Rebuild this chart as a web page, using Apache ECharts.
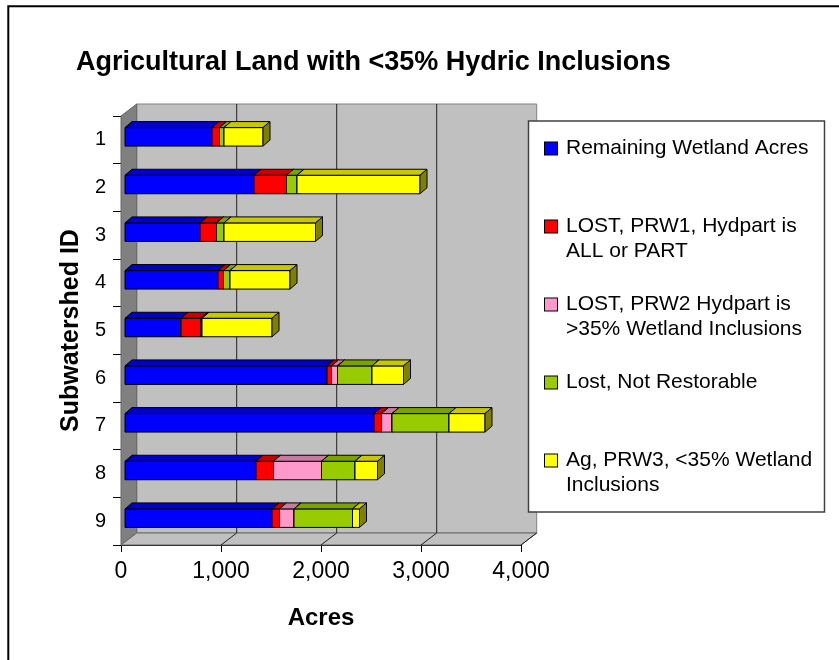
<!DOCTYPE html>
<html>
<head>
<meta charset="utf-8">
<script src="https://cdn.jsdelivr.net/npm/echarts@6/dist/echarts.min.js"></script>
<style>
html,body{margin:0;padding:0;background:#fff;}
#chart{width:839px;height:660px;}
</style>
</head>
<body>
<div id="chart"></div>
<script>
// ---- data ----
const categories = ['1','2','3','4','5','6','7','8','9'];
const seriesNames = [
  'Remaining Wetland Acres',
  'LOST, PRW1, Hydpart is ALL or PART',
  'LOST, PRW2 Hydpart is >35% Wetland Inclusions',
  'Lost, Not Restorable',
  'Ag, PRW3, <35% Wetland Inclusions'
];
const legendLines = [
  'Remaining Wetland Acres',
  'LOST, PRW1, Hydpart is\nALL or PART',
  'LOST, PRW2 Hydpart is\n>35% Wetland Inclusions',
  'Lost, Not Restorable',
  'Ag, PRW3, <35% Wetland\nInclusions'
];
const remaining   = [870, 1290, 750, 930, 560, 2020, 2490, 1310, 1470];
const lostPRW1    = [75, 325, 165, 55, 200, 45, 75, 175, 75];
const lostPRW2    = [0, 0, 0, 0, 0, 60, 105, 480, 145];
const notRestor   = [45, 105, 75, 65, 10, 345, 570, 335, 585];
const agPRW3      = [390, 1230, 915, 600, 700, 315, 360, 225, 70];
const xTicks = [0, 1000, 2000, 3000, 4000];
const xTickLabels = ['0', '1,000', '2,000', '3,000', '4,000'];

// ---- style ----
const FONT = 'Liberation Sans, Arial, sans-serif';
const frontColors = ['#0000FF', '#FF0000', '#FF99CC', '#99CC00', '#FFFF00'];
const topColors   = ['#0000C8', '#C80000', '#C87AA0', '#7AA300', '#C8C800'];
const sideColors  = ['#000080', '#800000', '#804D66', '#4D6600', '#808000'];
const WALL_DX = 15.7, WALL_DY = -12;   // depth of back wall
const BAR_OX = 4, BAR_OY = -3;          // bar front-face offset
const BAR_DX = 7, BAR_DY = -6;          // bar depth
const BAR_H = 18.5;

const valueSets = [remaining, lostPRW1, lostPRW2, notRestor, agPRW3];
const cum = categories.map(() => 0);
const stacked = valueSets.map(vals => vals.map((v, i) => {
  const s = cum[i]; cum[i] += v; return [s, s + v, i];
}));

const chart = echarts.init(document.getElementById('chart'));

function wallsRender(params, api) {
  const cs = params.coordSys;
  const L = cs.x, T = cs.y, R = cs.x + cs.width, B = cs.y + cs.height;
  const dx = WALL_DX, dy = WALL_DY;
  const children = [];
  children.push({type:'polygon', shape:{points:[[L+dx,T+dy],[R+dx,T+dy],[R+dx,B+dy],[L+dx,B+dy]]},
    style:{fill:'#C0C0C0', stroke:'#808080', lineWidth:1}});
  children.push({type:'polygon', shape:{points:[[L,T],[L+dx,T+dy],[L+dx,B+dy],[L,B]]},
    style:{fill:'#808080', stroke:'#666666', lineWidth:1}});
  children.push({type:'polygon', shape:{points:[[L,B],[L+dx,B+dy],[R+dx,B+dy],[R,B]]},
    style:{fill:'#C0C0C0', stroke:'#666666', lineWidth:1}});
  xTicks.forEach(v => {
    if (v === xTicks[0]) return;
    const x = api.coord([v, 0])[0];
    if (v !== xTicks[xTicks.length-1]) {
      children.push({type:'line', shape:{x1:x+dx, y1:T+dy, x2:x+dx, y2:B+dy},
        style:{stroke:'#222', lineWidth:1}});
    }
    children.push({type:'line', shape:{x1:x, y1:B, x2:x+dx, y2:B+dy},
      style:{stroke:'#222', lineWidth:1}});
  });
  return {type:'group', children};
}

function barRender(k) {
  return function (params, api) {
    const s = api.value(0), e = api.value(1), i = api.value(2);
    if (e - s <= 0) return null;
    const p0 = api.coord([s, i]), p1 = api.coord([e, i]);
    const x0 = p0[0] + BAR_OX, x1 = p1[0] + BAR_OX;
    const yc = p0[1] + BAR_OY;
    const t = yc - BAR_H / 2, b = yc + BAR_H / 2;
    const st = {stroke:'#000', lineWidth:1, lineJoin:'round'};
    return {type:'group', children:[
      {type:'polygon', shape:{points:[[x0,t],[x1,t],[x1,b],[x0,b]]},
        style:Object.assign({fill:frontColors[k]}, st)},
      {type:'polygon', shape:{points:[[x0,t],[x0+BAR_DX,t+BAR_DY],[x1+BAR_DX,t+BAR_DY],[x1,t]]},
        style:Object.assign({fill:topColors[k]}, st)},
      {type:'polygon', shape:{points:[[x1,t],[x1+BAR_DX,t+BAR_DY],[x1+BAR_DX,b+BAR_DY],[x1,b]]},
        style:Object.assign({fill:sideColors[k]}, st)}
    ]};
  };
}

const rich = {
  g: {width: 9, lineHeight: 25},
  g2: {width: 21, lineHeight: 25}
};
frontColors.forEach((c, k) => {
  rich['b' + k] = {width: 12, height: 12, backgroundColor: c, borderColor: '#000', borderWidth: 1, lineHeight: 25};
});

const series = [{
  type: 'custom', name: '_walls', silent: true, clip: false, z: 1,
  data: [[0, 0]], renderItem: wallsRender
}];
seriesNames.forEach((name, k) => {
  series.push({
    type: 'custom', name: name, silent: true, clip: false, z: 2,
    itemStyle: {color: frontColors[k]},
    data: stacked[k], renderItem: barRender(k)
  });
});

chart.setOption({
  animation: false,
  backgroundColor: '#ffffff',
  title: {
    text: 'Agricultural Land with <35% Hydric Inclusions',
    left: 71, top: 44,
    textStyle: {fontFamily: FONT, fontSize: 27, fontWeight: 'bold', color: '#000'}
  },
  grid: {left: 121, top: 116, width: 400, height: 429, containLabel: false},
  xAxis: {
    type: 'value', min: 0, max: 4000, interval: 1000,
    name: 'Acres', nameLocation: 'middle', nameGap: 61,
    nameTextStyle: {fontFamily: FONT, fontSize: 24, fontWeight: 'bold', color: '#000'},
    axisLine: {show: true, lineStyle: {color: '#000', width: 1}},
    axisTick: {show: true, length: 7, lineStyle: {color: '#000'}},
    axisLabel: {fontFamily: FONT, fontSize: 23, color: '#000', margin: 15,
      formatter: v => xTickLabels[xTicks.indexOf(v)]},
    splitLine: {show: false}
  },
  yAxis: {
    type: 'category', data: categories, inverse: true,
    name: 'Subwatershed ID', nameLocation: 'middle', nameGap: 37, nameRotate: 90,
    nameTextStyle: {fontFamily: FONT, fontSize: 25, fontWeight: 'bold', color: '#000'},
    axisLine: {show: true, lineStyle: {color: '#000', width: 1}},
    axisTick: {show: true, length: 8, lineStyle: {color: '#000'}},
    axisLabel: {fontFamily: FONT, fontSize: 20, color: '#000', margin: 15},
    splitLine: {show: false}
  },
  legend: {
    data: seriesNames, orient: 'vertical', left: 535, top: 131, itemGap: 28,
    icon: 'none', itemWidth: 0, itemHeight: 12, selectedMode: false, z: 5,
    formatter: name => {
      const k = seriesNames.indexOf(name);
      const lines = legendLines[k].split('\n');
      return '{b' + k + '| }{g| }' + lines[0] + '\n{g2| }' + (lines[1] || ' ');
    },
    textStyle: {fontFamily: FONT, fontSize: 21, lineHeight: 25, color: '#000', rich: rich}
  },
  graphic: [
    {type: 'rect', z: 4, shape: {x: 528.5, y: 121, width: 296, height: 391},
      style: {fill: '#fff', stroke: '#404040', lineWidth: 1.5}},
    {type: 'polyline', z: 10, shape: {points: [[8.3, 700], [8.3, 6.3], [900, 6.3]]},
      style: {fill: null, stroke: '#000', lineWidth: 2}}
  ],
  series: series
});
</script>
</body>
</html>
